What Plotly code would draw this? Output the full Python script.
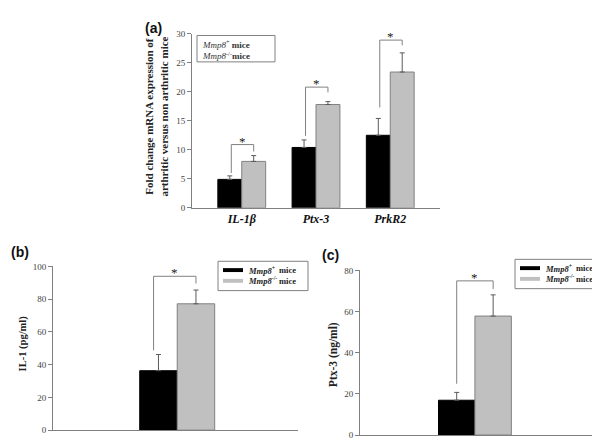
import plotly.graph_objects as go

# ---------------- data ----------------
genes = ["IL-1β", "Ptx-3", "PrkR2"]
wt_fold = [4.9, 10.4, 12.5]
wt_fold_err = [0.6, 1.3, 2.9]
ko_fold = [8.0, 17.8, 23.4]
ko_fold_err = [1.0, 0.5, 3.3]
sig_a_foot = [6.0, 12.4, 17.3]
sig_a_top = [10.9, 20.8, 28.9]
sig_a_right = [9.7, 19.9, 28.0]

il1_wt, il1_wt_err = [36.3], [9.9]
il1_ko, il1_ko_err = [77.2], [8.4]
sig_b = dict(foot=48.8, top=94.0, right=89.6)

ptx_wt, ptx_wt_err = [16.9], [3.8]
ptx_ko, ptx_ko_err = [57.8], [10.3]
sig_c = dict(foot=24.9, top=74.9, right=70.9)

yticks_a = [0, 5, 10, 15, 20, 25, 30]
yticks_b = [0, 20, 40, 60, 80, 100]
yticks_c = [0, 20, 40, 60, 80]
legend_labels = ["<i>Mmp8</i><sup>+</sup>", "<i>Mmp8</i><sup>-/-</sup>"]

# ---------------- styles ----------------
W, H = 600, 445
BLACK = "#000000"
GREY = "#c0c0c0"
GREY_LINE = "#808080"
ERR = "#5a5a5a"
SERIF = "Liberation Serif, Times New Roman, serif"
SANS = "Liberation Sans, Arial, sans-serif"


def px(x):
    return x / W


def py(y):
    return 1 - y / H


fig = go.Figure()

wa = 0.322   # bar width panel a (category units)
wb = 0.153
wc = 0.155


def err(arr):
    return dict(type="data", symmetric=False, array=arr, arrayminus=[0] * len(arr),
                color=ERR, thickness=1, width=2.5)


idx = list(range(len(genes)))
fig.add_trace(go.Bar(x=idx, y=wt_fold, width=wa, offset=-wa, marker=dict(color=BLACK, line=dict(color=BLACK, width=1)),
                     error_y=err(wt_fold_err), xaxis="x", yaxis="y", showlegend=False))
fig.add_trace(go.Bar(x=idx, y=ko_fold, width=wa, offset=0, marker=dict(color=GREY, line=dict(color=GREY_LINE, width=1)),
                     error_y=err(ko_fold_err), xaxis="x", yaxis="y", showlegend=False))

fig.add_trace(go.Bar(x=[0], y=il1_wt, width=wb, offset=-wb, marker=dict(color=BLACK, line=dict(color=BLACK, width=1)),
                     error_y=err(il1_wt_err), xaxis="x2", yaxis="y2", showlegend=False))
fig.add_trace(go.Bar(x=[0], y=il1_ko, width=wb, offset=0, marker=dict(color=GREY, line=dict(color=GREY_LINE, width=1)),
                     error_y=err(il1_ko_err), xaxis="x2", yaxis="y2", showlegend=False))

fig.add_trace(go.Bar(x=[0], y=ptx_wt, width=wc, offset=-wc, marker=dict(color=BLACK, line=dict(color=BLACK, width=1)),
                     error_y=err(ptx_wt_err), xaxis="x3", yaxis="y3", showlegend=False))
fig.add_trace(go.Bar(x=[0], y=ptx_ko, width=wc, offset=0, marker=dict(color=GREY, line=dict(color=GREY_LINE, width=1)),
                     error_y=err(ptx_ko_err), xaxis="x3", yaxis="y3", showlegend=False))

shapes = []
annotations = []


def bracket(xr, yr, xl, xrgt, foot, top, right):
    line = dict(color=GREY_LINE, width=1)
    shapes.append(dict(type="line", xref=xr, yref=yr, x0=xl, x1=xl, y0=foot, y1=top, line=line))
    shapes.append(dict(type="line", xref=xr, yref=yr, x0=xl, x1=xrgt, y0=top, y1=top, line=line))
    shapes.append(dict(type="line", xref=xr, yref=yr, x0=xrgt, x1=xrgt, y0=top, y1=right, line=line))
    annotations.append(dict(xref=xr, yref=yr, x=(xl + xrgt) / 2, y=top, text="*", showarrow=False,
                            yanchor="bottom", yshift=-6, font=dict(family=SERIF, size=13, color="#222")))


for i in idx:
    bracket("x", "y", i - wa / 2 + 0.02, i + wa / 2, sig_a_foot[i], sig_a_top[i], sig_a_right[i])
bracket("x2", "y2", -wb / 2 - 0.02, wb / 2, sig_b["foot"], sig_b["top"], sig_b["right"])
bracket("x3", "y3", -wc / 2, wc / 2, sig_c["foot"], sig_c["top"], sig_c["right"])

# panel labels
for lab, x, y in [("(a)", 145, 15), ("(b)", 12, 245), ("(c)", 322, 248)]:
    annotations.append(dict(xref="paper", yref="paper", x=px(x), y=py(y), text=f"<b>{lab}</b>", showarrow=False,
                            xanchor="center", yanchor="middle", font=dict(family=SANS, size=14, color="#111")))

# y titles
annotations.append(dict(xref="paper", yref="paper", x=px(148), y=py(106), textangle=-90, showarrow=False,
                        text="<b>Fold change mRNA expression of<br>arthritic versus non arthritic mice</b>",
                        font=dict(family=SERIF, size=11, color="#222"), xanchor="center", yanchor="middle"))
annotations.append(dict(xref="paper", yref="paper", x=px(15), y=py(338), textangle=-90, showarrow=False,
                        text="<b>IL-1 (pg/ml)</b>", font=dict(family=SERIF, size=10.5, color="#222"),
                        xanchor="center", yanchor="middle"))
annotations.append(dict(xref="paper", yref="paper", x=px(325), y=py(350), textangle=-90, showarrow=False,
                        text="<b>Ptx-3 (ng/ml)</b>", font=dict(family=SERIF, size=11.5, color="#222"),
                        xanchor="center", yanchor="middle"))

# legend (a): text-only box
annotations.append(dict(xref="paper", yref="paper", x=px(192), y=py(37), xanchor="left", yanchor="middle",
                        align="left", showarrow=False,
                        text=f"{legend_labels[0]} <b>mice</b><br>{legend_labels[1]}<b>mice</b>",
                        font=dict(family=SERIF, size=9, color="#333")))
shapes.append(dict(type="rect", xref="paper", yref="paper", x0=px(189), x1=px(267), y0=py(23), y1=py(50),
                   line=dict(color=GREY_LINE, width=1), fillcolor="rgba(0,0,0,0)"))


def swatch_legend(x0, y0, x1, y1, rows):
    shapes.append(dict(type="rect", xref="paper", yref="paper", x0=px(x0), x1=px(x1), y0=py(y0), y1=py(y1),
                       line=dict(color=GREY_LINE, width=1), fillcolor="white"))
    for (color, label), ry in zip(rows, [y0 + 9, y0 + 20]):
        shapes.append(dict(type="rect", xref="paper", yref="paper", x0=px(x0 + 5), x1=px(x0 + 25),
                           y0=py(ry - 2), y1=py(ry + 2), line=dict(width=0), fillcolor=color))
        annotations.append(dict(xref="paper", yref="paper", x=px(x0 + 28), y=py(ry), xanchor="left",
                                yanchor="middle", showarrow=False,
                                text=f"<b>{label}</b>",
                                font=dict(family=SERIF, size=8.5, color="#222")))
        annotations.append(dict(xref="paper", yref="paper", x=px(x0 + 59), y=py(ry), xanchor="left",
                                yanchor="middle", showarrow=False,
                                text="<b>mice</b>",
                                font=dict(family=SERIF, size=8.5, color="#222")))


swatch_legend(210, 254, 300, 284, [(BLACK, legend_labels[0]), (GREY, legend_labels[1])])
swatch_legend(507, 252, 597, 282, [(BLACK, legend_labels[0]), (GREY, legend_labels[1])])

yax_common = dict(showline=True, linecolor=GREY_LINE, linewidth=1, ticks="outside", ticklen=4,
                  tickcolor=GREY_LINE, showgrid=False, zeroline=False,
                  tickfont=dict(family=SERIF, size=9, color="#444"))
xax_common = dict(showline=True, linecolor=GREY_LINE, linewidth=1, ticks="", showgrid=False, zeroline=False)

fig.update_layout(
    width=W, height=H, autosize=False,
    margin=dict(l=0, r=0, t=0, b=0),
    paper_bgcolor="white", plot_bgcolor="white",
    barmode="overlay", showlegend=False,
    xaxis=dict(domain=[px(184), px(432)], range=[-0.67, 2.67], tickvals=idx, ticktext=[f"<b><i>{g}</i></b>" for g in genes],
               tickfont=dict(family=SERIF, size=12, color="#111"), anchor="y", **xax_common),
    yaxis=dict(domain=[py(199.3), py(21.2)], range=[0, 30], tickvals=yticks_a, anchor="x", **yax_common),
    xaxis2=dict(domain=[px(45), px(290)], range=[-0.507, 0.493], showticklabels=False, anchor="y2", **xax_common),
    yaxis2=dict(domain=[py(426.7), py(259.3)], range=[0, 100], tickvals=yticks_b, anchor="x2", **yax_common),
    xaxis3=dict(domain=[px(352), px(587)], range=[-0.489, 0.511], showticklabels=False, anchor="y3", **xax_common),
    yaxis3=dict(domain=[py(431.7), py(263.3)], range=[0, 80], tickvals=yticks_c, anchor="x3", **yax_common),
    shapes=shapes, annotations=annotations,
)

fig.write_html("out.html")
